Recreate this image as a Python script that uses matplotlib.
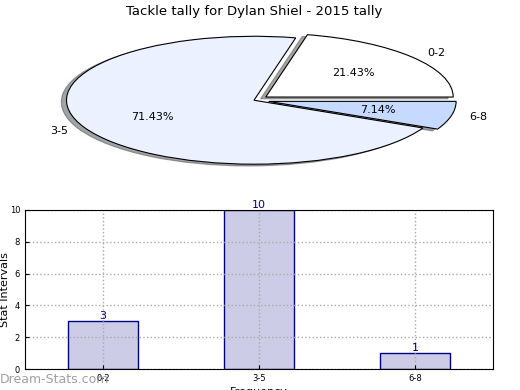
import matplotlib
matplotlib.use("Agg")
import matplotlib.pyplot as plt

categories = ["0-2", "3-5", "6-8"]
counts = [3, 10, 1]
pie_colors = ["#ffffff", "#ebf1ff", "#c6d9ff"]
explode = [0.08, 0.0, 0.08]

fig = plt.figure(figsize=(5.2, 3.9), dpi=100)

# pie on top, stretched to the wide axes
ax1 = fig.add_axes([0.0197, 0.538, 0.9375, 0.41])
wedges, texts, autotexts = ax1.pie(counts, labels=categories, colors=pie_colors, explode=explode,
                                   autopct="%1.2f%%", shadow=True, startangle=0,
                                   wedgeprops={"edgecolor": "black", "linewidth": 0.8},
                                   textprops={"fontsize": 8})
ax1.set_aspect("auto")
ax1.set_xlim(-1.3, 1.3)
ax1.set_ylim(-1.25, 1.25)
ax1.set_title("Tackle tally for Dylan Shiel - 2015 tally", fontsize=9.5, pad=4)

# bars below
ax2 = fig.add_axes([0.048, 0.0538, 0.9, 0.408])
x = range(len(categories))
bars = ax2.bar(x, counts, width=0.45, color="#cccce6", edgecolor="navy", linewidth=1, zorder=2)
for b, v in zip(bars, counts):
    ax2.text(b.get_x() + b.get_width() / 2, v, str(v), ha="center", va="bottom",
             color="navy", fontsize=8)
ax2.set_xlim(-0.5, 2.5)
ax2.set_ylim(0, 10)
ax2.set_xticks(list(x))
ax2.set_xticklabels(categories)
ax2.set_yticks([0, 2, 4, 6, 8, 10])
ax2.tick_params(labelsize=6, direction="in", length=3)
ax2.grid(True, linestyle=":", color="#aaaaaa", linewidth=1, zorder=0)
ax2.set_axisbelow(False)
for s in ax2.spines.values():
    s.set_zorder(3)
ax2.set_ylabel("Stat Intervals", fontsize=8, labelpad=0)
ax2.set_xlabel("Frequency", fontsize=8, labelpad=3)

fig.text(0.0, 0.01, "Dream-Stats.com", fontsize=9, color="#888888", alpha=0.8,
         ha="left", va="bottom")

fig.savefig("out.png", dpi=100)
